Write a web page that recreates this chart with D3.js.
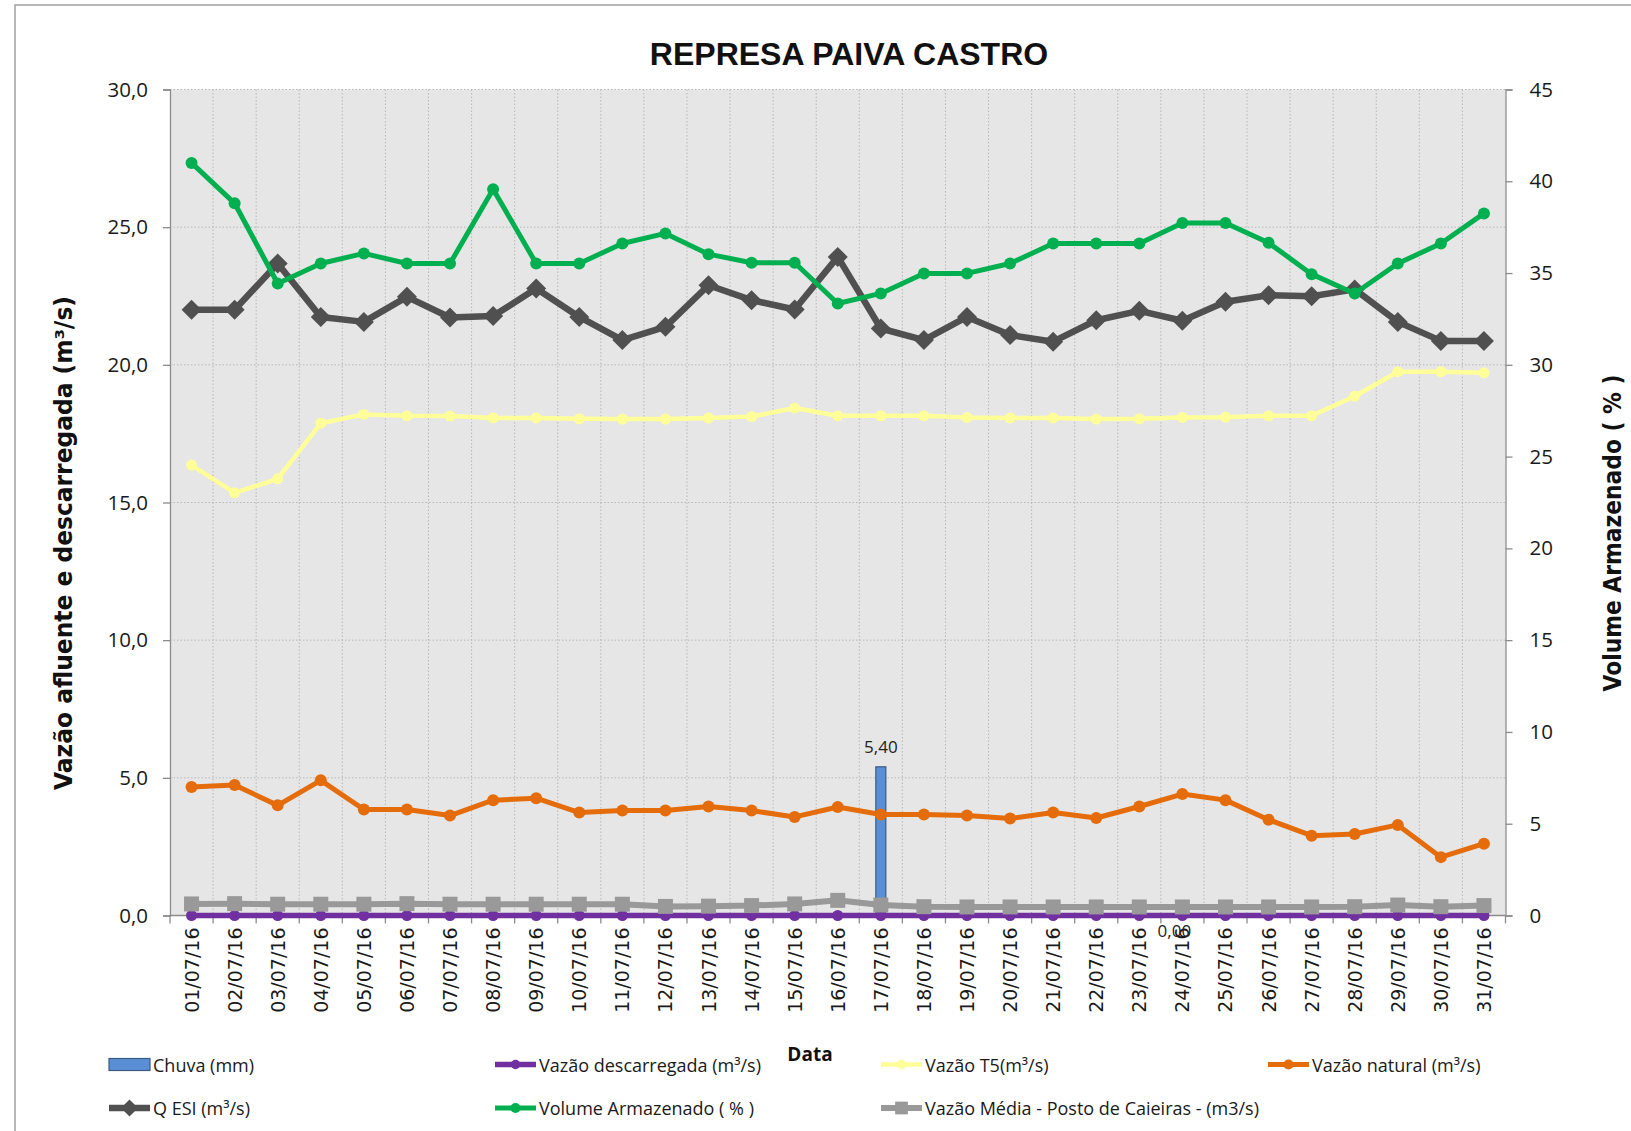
<!DOCTYPE html>
<html>
<head>
<meta charset="utf-8">
<script src="https://cdn.jsdelivr.net/npm/d3@7"></script>
<style>
  body { margin: 0; background: #fff; }
  svg { display: block; }
</style>
</head>
<body>
<div id="chart"></div>
<script>
// chart values
const dates = ["01/07/16","02/07/16","03/07/16","04/07/16","05/07/16","06/07/16","07/07/16","08/07/16",
  "09/07/16","10/07/16","11/07/16","12/07/16","13/07/16","14/07/16","15/07/16","16/07/16","17/07/16",
  "18/07/16","19/07/16","20/07/16","21/07/16","22/07/16","23/07/16","24/07/16","25/07/16","26/07/16",
  "27/07/16","28/07/16","29/07/16","30/07/16","31/07/16"];

const chuva = [0,0,0,0,0,0,0,0,0,0,0,0,0,0,0,0,5.40,0,0,0,0,0,0,0,0,0,0,0,0,0,0];

const vazaoDescarregada = [0,0,0,0,0,0,0,0,0,0,0,0,0,0,0,0,0,0,0,0,0,0,0,0,0,0,0,0,0,0,0];

const vazaoT5 = [16.36,15.35,15.86,17.88,18.20,18.15,18.14,18.07,18.07,18.04,18.03,18.03,18.07,18.12,18.43,
  18.15,18.15,18.15,18.09,18.07,18.07,18.03,18.04,18.09,18.10,18.15,18.15,18.86,19.75,19.75,19.71];

const vazaoNatural = [4.67,4.74,4.00,4.91,3.85,3.85,3.63,4.19,4.26,3.74,3.81,3.81,3.96,3.81,3.58,3.94,
  3.67,3.67,3.63,3.52,3.74,3.54,3.96,4.41,4.19,3.48,2.90,2.96,3.29,2.12,2.61];

const qEsi = [22.0,22.0,23.68,21.74,21.56,22.47,21.72,21.77,22.77,21.74,20.90,21.38,22.89,22.35,22.01,
  23.92,21.32,20.90,21.74,21.08,20.84,21.62,21.96,21.60,22.29,22.53,22.49,22.74,21.56,20.87,20.87];

const volumeArmazenado = [41.0,38.8,34.43,35.52,36.07,35.52,35.52,39.57,35.52,35.52,36.61,37.16,36.03,
  35.56,35.56,33.34,33.89,34.98,34.98,35.52,36.61,36.61,36.61,37.73,37.73,36.65,34.94,33.89,35.52,36.61,38.25];

const vazaoMedia = [0.42,0.43,0.41,0.41,0.41,0.43,0.41,0.41,0.41,0.41,0.41,0.33,0.34,0.36,0.42,0.55,
  0.38,0.32,0.31,0.31,0.31,0.31,0.31,0.31,0.31,0.31,0.31,0.32,0.38,0.32,0.36];

const leftTicks = [0,5,10,15,20,25,30];
const rightTicks = [0,5,10,15,20,25,30,35,40,45];

const width = 1631, height = 1131;
const plot = {left: 170, right: 1505.5, top: 89.5, bottom: 915.5};

const svg = d3.select("#chart").append("svg")
    .attr("width", width)
    .attr("height", height);

// outer chart frame
svg.append("rect")
    .attr("x", 15).attr("y", 5)
    .attr("width", 1700).attr("height", 1200)
    .attr("fill", "#fff")
    .attr("stroke", "#a0a0a0")
    .attr("stroke-width", 1.5);

let x = d3.scaleBand().domain(dates).range([plot.left, plot.right]);
let bw = x.bandwidth();
let cx = function(i) { return x(dates[i]) + bw / 2; };

let yL = d3.scaleLinear().domain([0, 30]).range([plot.bottom, plot.top]);
let yR = d3.scaleLinear().domain([0, 45]).range([plot.bottom, plot.top]);

// plot area
svg.append("rect")
    .attr("x", plot.left).attr("y", plot.top)
    .attr("width", plot.right - plot.left)
    .attr("height", plot.bottom - plot.top)
    .attr("fill", "#e6e6e6");

let grid = svg.append("g")
    .attr("stroke", "#b8b8b8")
    .attr("stroke-width", 1)
    .attr("stroke-dasharray", "1.5,2");

grid.selectAll(".hg").data(leftTicks.filter(d => d > 0)).enter()
    .append("line")
    .attr("x1", plot.left).attr("x2", plot.right)
    .attr("y1", d => yL(d)).attr("y2", d => yL(d));

grid.selectAll(".vg").data(dates.slice(1)).enter()
    .append("line")
    .attr("x1", d => x(d)).attr("x2", d => x(d))
    .attr("y1", plot.top).attr("y2", plot.bottom);

// axes
let fmt = d => d3.format(".1f")(d).replace(".", ",");
function fmt2(v) { return d3.format(".2f")(v).replace(".", ","); }

let leftAxis = svg.append("g")
    .attr("transform", `translate(${plot.left},0)`)
    .call(d3.axisLeft(yL).tickValues(leftTicks).tickFormat(fmt).tickSize(7).tickPadding(15));

let rightAxis = svg.append("g")
    .attr("transform", `translate(${plot.right},0)`)
    .call(d3.axisRight(yR).tickValues(rightTicks).tickFormat(d3.format("d")).tickSize(7).tickPadding(17));

[leftAxis, rightAxis].forEach(function(a) {
    a.selectAll("path, line").attr("stroke", "#8c8c8c").attr("stroke-width", 1.3);
    a.selectAll("text")
        .style("font-family", "'Open Sans', sans-serif")
        .style("font-size", "20.5px")
        .attr("fill", "#1a1a1a");
});

// bottom axis line and ticks between categories
svg.append("line")
    .attr("x1", plot.left).attr("x2", plot.right)
    .attr("y1", plot.bottom).attr("y2", plot.bottom)
    .attr("stroke", "#8c8c8c").attr("stroke-width", 1.3);

svg.selectAll(".xtick").data(dates.concat(["end"])).enter()
    .append("line")
    .attr("x1", d => d === "end" ? plot.right : x(d))
    .attr("x2", d => d === "end" ? plot.right : x(d))
    .attr("y1", plot.bottom).attr("y2", plot.bottom + 8)
    .attr("stroke", "#8c8c8c").attr("stroke-width", 1.3);

svg.selectAll(".xlabel").data(dates).enter()
    .append("text")
    .attr("transform", d => `translate(${x(d) + bw / 2}, ${plot.bottom + 12}) rotate(-90)`)
    .attr("text-anchor", "end")
    .attr("dominant-baseline", "central")
    .style("font-family", "'DejaVu Sans', Verdana, sans-serif")
    .style("font-size", "19px")
    .attr("fill", "#1a1a1a")
    .text(d => d);

// rain bars
svg.append("g").selectAll("rect").data(chuva).enter()
    .append("rect")
    .attr("x", (d, i) => cx(i) - 5)
    .attr("y", d => yL(d))
    .attr("width", 10)
    .attr("height", d => yL(0) - yL(d))
    .attr("fill", "#5a8fd6")
    .attr("stroke", "#3d5a80")
    .attr("stroke-width", d => d > 0 ? 1.2 : 0);

svg.append("text")
    .attr("x", cx(16)).attr("y", yL(chuva[16]) - 14)
    .attr("text-anchor", "middle")
    .style("font-family", "'Open Sans', sans-serif")
    .style("font-size", "17px")
    .attr("fill", "#222")
    .text(fmt2(chuva[16]));

svg.append("text")
    .attr("x", cx(23) - 8).attr("y", plot.bottom + 21)
    .attr("text-anchor", "middle")
    .style("font-family", "'Open Sans', sans-serif")
    .style("font-size", "17px")
    .attr("fill", "#222")
    .text(fmt2(chuva[23]));

function diamond(r) { return `M0,${-r}L${r},0L0,${r}L${-r},0Z`; }
function square(r) { return `M${-r},${-r}H${r}V${r}H${-r}Z`; }
function circle(r) { return d3.symbol(d3.symbolCircle, Math.PI * r * r)(); }

let series = [
    {name: "Vazão descarregada (m³/s)", values: vazaoDescarregada, y: yL, color: "#7030a0", lw: 5.5, marker: circle(5.5)},
    {name: "Vazão T5(m³/s)", values: vazaoT5, y: yL, color: "#ffff99", lw: 4.5, marker: circle(5.5)},
    {name: "Vazão natural (m³/s)", values: vazaoNatural, y: yL, color: "#e46c0a", lw: 5, marker: circle(6)},
    {name: "Q ESI (m³/s)", values: qEsi, y: yL, color: "#505050", lw: 6.5, marker: diamond(10)},
    {name: "Vazão Média - Posto de Caieiras - (m3/s)", values: vazaoMedia, y: yL, color: "#999999", lw: 6, marker: square(7.5)},
    {name: "Volume Armazenado ( % )", values: volumeArmazenado, y: yR, color: "#00b050", lw: 5, marker: circle(6)}
];

series.forEach(function(s) {
    let line = d3.line()
        .x((d, i) => cx(i))
        .y(d => s.y(d));
    let g = svg.append("g");
    g.append("path")
        .datum(s.values)
        .attr("d", line)
        .attr("fill", "none")
        .attr("stroke", s.color)
        .attr("stroke-width", s.lw)
        .attr("stroke-linejoin", "round");
    g.selectAll("path.m").data(s.values).enter()
        .append("path")
        .attr("class", "m")
        .attr("transform", (d, i) => `translate(${cx(i)},${s.y(d)})`)
        .attr("d", s.marker)
        .attr("fill", s.color);
});

// title and axis titles
svg.append("text")
    .attr("x", 849).attr("y", 65)
    .attr("text-anchor", "middle")
    .style("font-family", "'Liberation Sans', Arial, sans-serif")
    .style("font-weight", "bold")
    .style("font-size", "32px")
    .attr("fill", "#111")
    .text("REPRESA PAIVA CASTRO");

svg.append("text")
    .attr("transform", "translate(64,543) rotate(-90)")
    .attr("text-anchor", "middle")
    .attr("dominant-baseline", "central")
    .attr("textLength", 494)
    .attr("lengthAdjust", "spacingAndGlyphs")
    .style("font-family", "'DejaVu Sans', Verdana, sans-serif")
    .style("font-weight", "bold")
    .style("font-size", "24px")
    .attr("fill", "#111")
    .text("Vazão afluente e descarregada (m³/s)");

svg.append("text")
    .attr("transform", "translate(1613,533) rotate(-90)")
    .attr("text-anchor", "middle")
    .attr("dominant-baseline", "central")
    .attr("textLength", 317)
    .attr("lengthAdjust", "spacingAndGlyphs")
    .style("font-family", "'DejaVu Sans', Verdana, sans-serif")
    .style("font-weight", "bold")
    .style("font-size", "24px")
    .attr("fill", "#111")
    .text("Volume Armazenado ( % )");

svg.append("text")
    .attr("x", 810).attr("y", 1061)
    .attr("text-anchor", "middle")
    .style("font-family", "'Open Sans', sans-serif")
    .style("font-weight", "bold")
    .style("font-size", "19px")
    .attr("fill", "#111")
    .text("Data");

// legend
let legendPos = [
    {col: 109, row: 1064.5},
    {col: 495, row: 1064.5},
    {col: 881, row: 1064.5},
    {col: 1268, row: 1064.5},
    {col: 109, row: 1108},
    {col: 495, row: 1108},
    {col: 881, row: 1108}
];

let legendItems = [{name: "Chuva (mm)", bar: true}].concat(series.slice(0, 4), [series[5], series[4]]);

let legend = svg.append("g");
legendItems.forEach(function(s, i) {
    let p = legendPos[i];
    let g = legend.append("g").attr("transform", `translate(${p.col},${p.row})`);
    if (s.bar) {
        g.append("rect")
            .attr("x", 0).attr("y", -6)
            .attr("width", 41).attr("height", 12)
            .attr("fill", "#5a8fd6")
            .attr("stroke", "#3d5a80")
            .attr("stroke-width", 1.2);
    } else {
        g.append("line")
            .attr("x1", 0).attr("x2", 41)
            .attr("stroke", s.color)
            .attr("stroke-width", s.lw);
        g.append("path")
            .attr("transform", "translate(20.5,0) scale(0.85)")
            .attr("d", s.marker)
            .attr("fill", s.color);
    }
    g.append("text")
        .attr("x", 44).attr("y", 0)
        .attr("dominant-baseline", "central")
        .style("font-family", "'Open Sans', sans-serif")
        .style("font-size", "18px")
        .attr("fill", "#1a1a1a")
        .text(s.name);
});
</script>
</body>
</html>
